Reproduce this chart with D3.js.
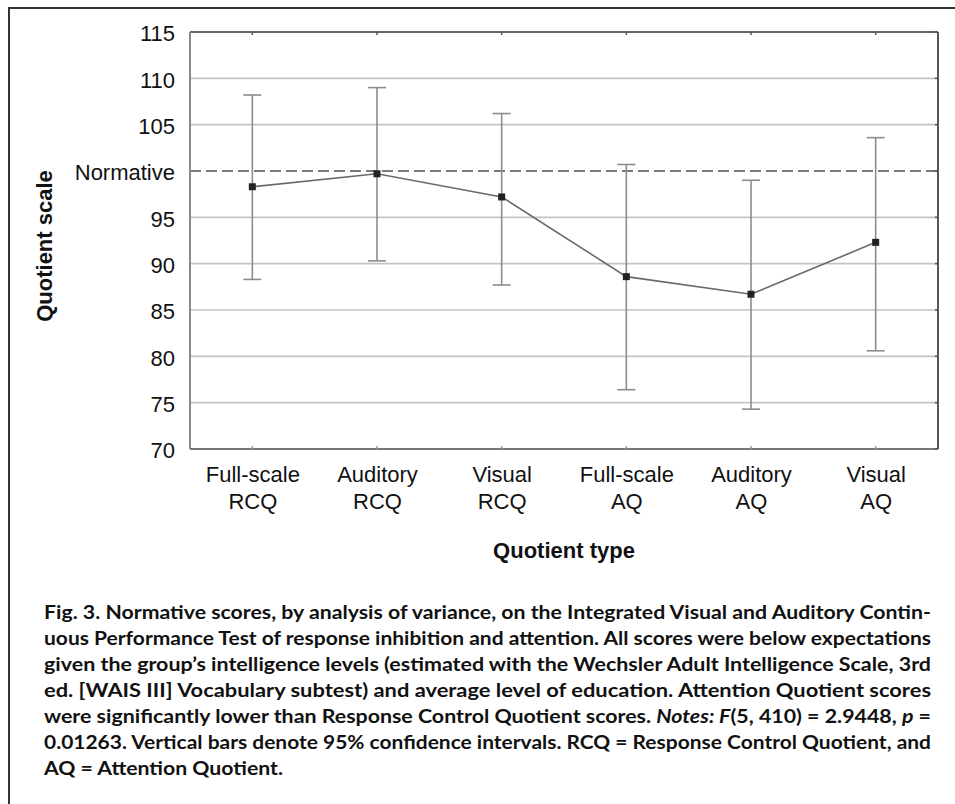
<!DOCTYPE html>
<html>
<head>
<meta charset="utf-8">
<script src="https://cdnjs.cloudflare.com/ajax/libs/d3/7.8.5/d3.min.js"></script>
<style>
  html, body { margin: 0; padding: 0; background: #fff; }
  svg { display: block; }
</style>
</head>
<body>
<svg id="chart" width="955" height="804"></svg>
<script>
// data
var categories = ["Full-scale RCQ", "Auditory RCQ", "Visual RCQ", "Full-scale AQ", "Auditory AQ", "Visual AQ"];
var means = [98.3, 99.7, 97.2, 88.6, 86.7, 92.3];
var upper = [108.2, 109.0, 106.2, 100.7, 99.0, 103.6];
var lower = [88.3, 90.3, 87.7, 76.4, 74.3, 80.6];
var yTicks = [70, 75, 80, 85, 90, 95, 100, 105, 110, 115];
var normative = 100;

var captionLines = [
  [["Fig. 3. Normative scores, by analysis of variance, on the Integrated Visual and Auditory Contin-", 0]],
  [["uous Performance Test of response inhibition and attention. All scores were below expectations", 0]],
  [["given the group\u2019s intelligence levels (estimated with the Wechsler Adult Intelligence Scale, 3rd", 0]],
  [["ed. [WAIS III] Vocabulary subtest) and average level of education. Attention Quotient scores", 0]],
  [["were significantly lower than Response Control Quotient scores. ", 0], ["Notes: F", 1], ["(5, 410) = 2.9448, ", 0], ["p", 1], [" =", 0]],
  [["0.01263. Vertical bars denote 95% confidence intervals. RCQ = Response Control Quotient, and", 0]],
  [["AQ = Attention Quotient.", 0]]
];
var captionWidths = [887, 887, 887, 887, 887, 887, 239];

var svg = d3.select("#chart");
var pLeft = 190, pRight = 938, pTop = 32, pBottom = 449;

var x = d3.scalePoint().domain(categories).range([pLeft, pRight]).padding(0.5);
var y = d3.scaleLinear().domain([70, 115]).range([pBottom, pTop]);

// outer frame (only left and top visible)
svg.append("path")
  .attr("d", "M9,804 L9,8 L955,8")
  .attr("fill", "none").attr("stroke", "#333").attr("stroke-width", 2);

// grid lines
svg.append("g").selectAll("line")
  .data(yTicks.filter(function(t) { return t != 70 && t != 115 && t != normative; }))
  .enter().append("line")
  .attr("x1", pLeft).attr("x2", pRight)
  .attr("y1", function(d) { return y(d); }).attr("y2", function(d) { return y(d); })
  .attr("stroke", "#c4c4c4").attr("stroke-width", 1.6);

// normative dashed line
svg.append("line")
  .attr("x1", pLeft).attr("x2", pRight)
  .attr("y1", y(normative)).attr("y2", y(normative))
  .attr("stroke", "#7a7a7a").attr("stroke-width", 2)
  .attr("stroke-dasharray", "11,5");

// plot borders
svg.append("line").attr("x1", pLeft).attr("x2", pRight).attr("y1", pTop).attr("y2", pTop)
  .attr("stroke", "#666").attr("stroke-width", 2);
svg.append("line").attr("x1", pLeft).attr("x2", pRight).attr("y1", pBottom).attr("y2", pBottom)
  .attr("stroke", "#777").attr("stroke-width", 2);
svg.append("line").attr("x1", pLeft).attr("x2", pLeft).attr("y1", pTop).attr("y2", pBottom)
  .attr("stroke", "#8a8a8a").attr("stroke-width", 2);
svg.append("line").attr("x1", pRight).attr("x2", pRight).attr("y1", pTop).attr("y2", pBottom)
  .attr("stroke", "#555").attr("stroke-width", 2);

// small tick marks on top / bottom / right
svg.append("g").selectAll("line").data(categories).enter().append("line")
  .attr("x1", function(d) { return x(d); }).attr("x2", function(d) { return x(d); })
  .attr("y1", pTop).attr("y2", pTop + 3).attr("stroke", "#555").attr("stroke-width", 1.5);
svg.append("g").selectAll("line").data(categories).enter().append("line")
  .attr("x1", function(d) { return x(d); }).attr("x2", function(d) { return x(d); })
  .attr("y1", pBottom).attr("y2", pBottom - 3).attr("stroke", "#999").attr("stroke-width", 1.5);
svg.append("g").selectAll("line").data(yTicks).enter().append("line")
  .attr("x1", pRight).attr("x2", pRight - 3)
  .attr("y1", function(d) { return y(d); }).attr("y2", function(d) { return y(d); })
  .attr("stroke", "#555").attr("stroke-width", 1.5);

// y axis labels
var yAxis = d3.axisLeft(y).tickValues(yTicks).tickSize(0).tickPadding(0)
  .tickFormat(function(d) { return d == normative ? "Normative" : d; });
var gy = svg.append("g").attr("transform", "translate(" + (pLeft - 15) + ",0)").call(yAxis);
gy.select(".domain").remove();
gy.selectAll("text")
  .attr("font-family", "Liberation Sans, Arial, sans-serif")
  .attr("font-size", 22).attr("fill", "#111").attr("dy", "0.4em");

// x axis labels (two lines)
var xAxis = d3.axisBottom(x).tickSize(0).tickPadding(0);
var gx = svg.append("g").attr("transform", "translate(0," + pBottom + ")").call(xAxis);
gx.select(".domain").remove();
gx.selectAll("text").each(function(d) {
  var t = d3.select(this).text("").attr("y", 0).attr("dy", null)
    .attr("font-family", "Liberation Sans, Arial, sans-serif")
    .attr("font-size", 22).attr("fill", "#111");
  var parts = d.split(" ");
  t.append("tspan").attr("x", 0).attr("y", 33).text(parts[0]);
  t.append("tspan").attr("x", 0).attr("y", 60).text(parts[1]);
});

// axis titles
svg.append("text")
  .attr("transform", "translate(52,246) rotate(-90)")
  .attr("text-anchor", "middle")
  .attr("font-family", "Liberation Sans, Arial, sans-serif")
  .attr("font-size", 22).attr("font-weight", "bold").attr("fill", "#111")
  .text("Quotient scale");
svg.append("text")
  .attr("x", (pLeft + pRight) / 2).attr("y", 558)
  .attr("text-anchor", "middle")
  .attr("font-family", "Liberation Sans, Arial, sans-serif")
  .attr("font-size", 22).attr("font-weight", "bold").attr("fill", "#111")
  .text("Quotient type");

// error bars
var bars = svg.append("g");
categories.forEach(function(c, i) {
  var cx = x(c);
  bars.append("line").attr("x1", cx).attr("x2", cx)
    .attr("y1", y(lower[i])).attr("y2", y(upper[i]))
    .attr("stroke", "#8c8c8c").attr("stroke-width", 1.6);
  [lower[i], upper[i]].forEach(function(v) {
    bars.append("line").attr("x1", cx - 9).attr("x2", cx + 9)
      .attr("y1", y(v)).attr("y2", y(v))
      .attr("stroke", "#8c8c8c").attr("stroke-width", 1.6);
  });
});

// mean line
var line = d3.line()
  .x(function(d, i) { return x(categories[i]); })
  .y(function(d) { return y(d); });
svg.append("path").datum(means)
  .attr("d", line).attr("fill", "none")
  .attr("stroke", "#6a6a6a").attr("stroke-width", 1.6);

// markers
svg.append("g").selectAll("rect").data(means).enter().append("rect")
  .attr("x", function(d, i) { return x(categories[i]) - 3.5; })
  .attr("y", function(d) { return y(d) - 3.5; })
  .attr("width", 7).attr("height", 7)
  .attr("fill", "#222");

// caption
var cap = svg.append("g")
  .attr("font-family", "Lato, 'Open Sans', sans-serif")
  .attr("font-size", 18).attr("font-weight", "bold").attr("fill", "#111");
captionLines.forEach(function(parts, i) {
  var t = cap.append("text").attr("x", 44).attr("y", 619 + i * 26)
    .attr("textLength", captionWidths[i]).attr("lengthAdjust", "spacingAndGlyphs");
  parts.forEach(function(p) {
    var ts = t.append("tspan").text(p[0]);
    if (p[1]) ts.attr("font-style", "italic");
  });
});
</script>
</body>
</html>
